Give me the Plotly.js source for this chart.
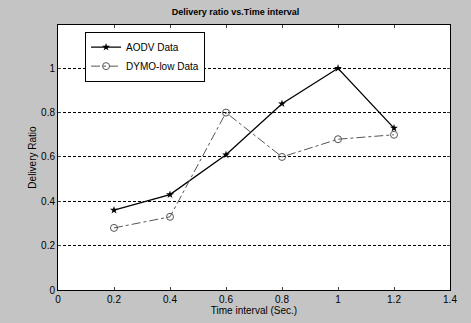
<!DOCTYPE html>
<html><head><meta charset="utf-8">
<script src="https://cdn.plot.ly/plotly-3.0.1.min.js"></script>
<style>html,body{margin:0;padding:0;background:#c4c4c4;}#chart{width:471px;height:323px;}</style>
</head><body><div id="chart"></div>
<script>
const timeInterval = [0.2, 0.4, 0.6, 0.8, 1.0, 1.2];
const aodvData = [0.36, 0.43, 0.61, 0.84, 1.0, 0.73];
const dymoData = [0.28, 0.33, 0.80, 0.60, 0.68, 0.70];
const xTicks = [0, 0.2, 0.4, 0.6, 0.8, 1, 1.2, 1.4];
const yTicks = [0, 0.2, 0.4, 0.6, 0.8, 1];

const font = {family: 'Liberation Sans, Arial, sans-serif', color: '#000'};
const traces = [
  {x: timeInterval, y: aodvData, name: 'AODV Data', mode: 'lines+markers',
   line: {color: '#000', width: 1.3}, marker: {symbol: 'star', size: 6, color: '#000'}},
  {x: timeInterval, y: dymoData, name: 'DYMO-low Data', mode: 'lines+markers',
   line: {color: '#555', width: 1, dash: 'dashdot'},
   marker: {symbol: 'circle-open', size: 7, color: '#555', line: {width: 1}}}
];
const layout = {
  width: 471, height: 323,
  margin: {l: 58, r: 21, t: 25, b: 33},
  paper_bgcolor: '#c4c4c4', plot_bgcolor: '#fff',
  font: Object.assign({size: 10}, font),
  title: {text: '<b>Delivery ratio vs.Time interval</b>', font: Object.assign({size: 9}, font), x: 0.5, xanchor: 'center', y: 0.972, yanchor: 'top'},
  showlegend: true,
  legend: {x: 0.069, y: 0.975, xanchor: 'left', yanchor: 'top', bgcolor: '#fff', bordercolor: '#000', borderwidth: 1,
           font: Object.assign({size: 10}, font), tracegroupgap: 0, itemwidth: 30},
  xaxis: {range: [0, 1.4], tickvals: xTicks, ticktext: xTicks.map(String), ticks: 'inside', ticklen: 3,
          showline: true, linecolor: '#000', linewidth: 1, mirror: 'ticks', showgrid: false, zeroline: false,
          title: {text: 'Time interval (Sec.)', font: Object.assign({size: 10}, font), standoff: 2}},
  yaxis: {range: [0, 1.195], tickvals: yTicks, ticktext: yTicks.map(String), ticks: 'inside', ticklen: 3,
          showline: true, linecolor: '#000', linewidth: 1, mirror: 'ticks', showgrid: true,
          gridcolor: '#000', gridwidth: 1, griddash: '3px,2px', zeroline: false,
          title: {text: 'Delivery Ratio', font: Object.assign({size: 10}, font), standoff: 2}}
};
Plotly.newPlot('chart', traces, layout, {displayModeBar: false, staticPlot: true});
</script></body></html>
